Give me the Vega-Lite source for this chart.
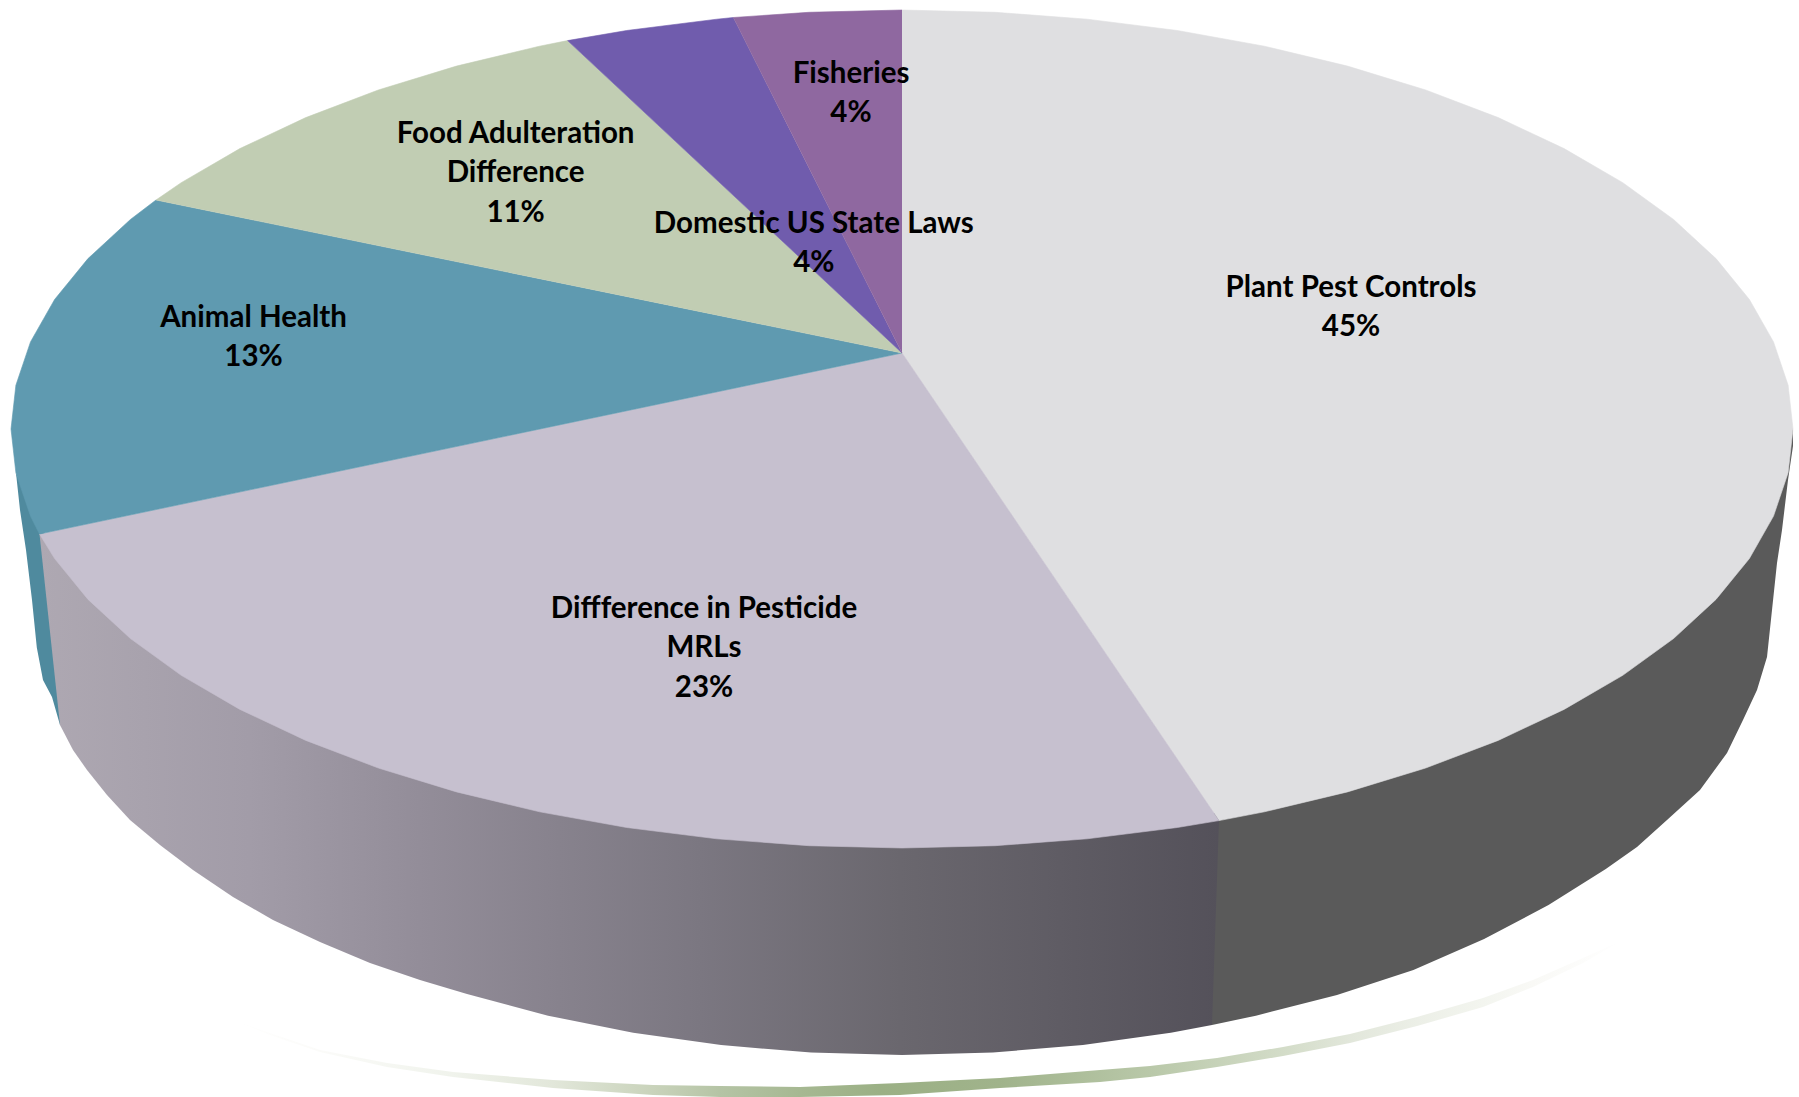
{"$schema":"https://vega.github.io/schema/vega-lite/v6.json","width":1799,"height":1097,"padding":0,"autosize":{"type":"none"},"background":"white","view":{"stroke":null},
"datasets":{
"shares":[
{"part":"Plant Pest Controls","share":45,"lines":["Plant Pest Controls","45%"],"x":1351,"y":288},
{"part":"Diffference in Pesticide MRLs","share":23,"lines":["Diffference in Pesticide","MRLs","23%"],"x":704,"y":609},
{"part":"Animal Health","share":13,"lines":["Animal Health","13%"],"x":253.5,"y":318},
{"part":"Food Adulteration Difference","share":11,"lines":["Food Adulteration","Difference","11%"],"x":515.6,"y":134},
{"part":"Domestic US State Laws","share":4,"lines":["Domestic US State Laws","4%"],"x":813.8,"y":224},
{"part":"Fisheries","share":4,"lines":["Fisheries","4%"],"x":851,"y":74}],
"top":[
{"part":"Plant Pest Controls","seq":0,"x":902,"y":353},{"part":"Plant Pest Controls","seq":1,"x":902,"y":10},{"part":"Plant Pest Controls","seq":2,"x":995.1,"y":12.3},{"part":"Plant Pest Controls","seq":3,"x":1087.2,"y":19.2},{"part":"Plant Pest Controls","seq":4,"x":1177.3,"y":30.5},{"part":"Plant Pest Controls","seq":5,"x":1264.4,"y":46.2},{"part":"Plant Pest Controls","seq":6,"x":1347.5,"y":66.1},{"part":"Plant Pest Controls","seq":7,"x":1425.7,"y":90},{"part":"Plant Pest Controls","seq":8,"x":1498.2,"y":117.6},{"part":"Plant Pest Controls","seq":9,"x":1564.1,"y":148.6},{"part":"Plant Pest Controls","seq":10,"x":1622.8,"y":182.7},{"part":"Plant Pest Controls","seq":11,"x":1673.6,"y":219.5},{"part":"Plant Pest Controls","seq":12,"x":1716,"y":258.6},{"part":"Plant Pest Controls","seq":13,"x":1749.4,"y":299.5},{"part":"Plant Pest Controls","seq":14,"x":1773.5,"y":341.9},{"part":"Plant Pest Controls","seq":15,"x":1788.1,"y":385.2},{"part":"Plant Pest Controls","seq":16,"x":1793,"y":429},{"part":"Plant Pest Controls","seq":17,"x":1788.1,"y":472.8},{"part":"Plant Pest Controls","seq":18,"x":1773.5,"y":516.1},{"part":"Plant Pest Controls","seq":19,"x":1749.4,"y":558.5},{"part":"Plant Pest Controls","seq":20,"x":1716,"y":599.4},{"part":"Plant Pest Controls","seq":21,"x":1673.6,"y":638.5},{"part":"Plant Pest Controls","seq":22,"x":1622.8,"y":675.3},{"part":"Plant Pest Controls","seq":23,"x":1564.1,"y":709.4},{"part":"Plant Pest Controls","seq":24,"x":1498.2,"y":740.4},{"part":"Plant Pest Controls","seq":25,"x":1425.7,"y":768},{"part":"Plant Pest Controls","seq":26,"x":1347.5,"y":791.9},{"part":"Plant Pest Controls","seq":27,"x":1264.4,"y":811.8},{"part":"Plant Pest Controls","seq":28,"x":1219,"y":820.6},
{"part":"Diffference in Pesticide MRLs","seq":0,"x":902,"y":353},{"part":"Diffference in Pesticide MRLs","seq":1,"x":1219,"y":820.6},{"part":"Diffference in Pesticide MRLs","seq":2,"x":1177.3,"y":827.5},{"part":"Diffference in Pesticide MRLs","seq":3,"x":1087.2,"y":838.8},{"part":"Diffference in Pesticide MRLs","seq":4,"x":995.1,"y":845.7},{"part":"Diffference in Pesticide MRLs","seq":5,"x":902,"y":848},{"part":"Diffference in Pesticide MRLs","seq":6,"x":808.9,"y":845.7},{"part":"Diffference in Pesticide MRLs","seq":7,"x":716.8,"y":838.8},{"part":"Diffference in Pesticide MRLs","seq":8,"x":626.7,"y":827.5},{"part":"Diffference in Pesticide MRLs","seq":9,"x":539.6,"y":811.8},{"part":"Diffference in Pesticide MRLs","seq":10,"x":456.5,"y":791.9},{"part":"Diffference in Pesticide MRLs","seq":11,"x":378.3,"y":768},{"part":"Diffference in Pesticide MRLs","seq":12,"x":305.8,"y":740.4},{"part":"Diffference in Pesticide MRLs","seq":13,"x":239.9,"y":709.4},{"part":"Diffference in Pesticide MRLs","seq":14,"x":181.2,"y":675.3},{"part":"Diffference in Pesticide MRLs","seq":15,"x":130.4,"y":638.5},{"part":"Diffference in Pesticide MRLs","seq":16,"x":88,"y":599.4},{"part":"Diffference in Pesticide MRLs","seq":17,"x":54.6,"y":558.5},{"part":"Diffference in Pesticide MRLs","seq":18,"x":39.5,"y":534},
{"part":"Animal Health","seq":0,"x":902,"y":353},{"part":"Animal Health","seq":1,"x":39.5,"y":534},{"part":"Animal Health","seq":2,"x":30.5,"y":516.1},{"part":"Animal Health","seq":3,"x":15.9,"y":472.8},{"part":"Animal Health","seq":4,"x":11,"y":429},{"part":"Animal Health","seq":5,"x":15.9,"y":385.2},{"part":"Animal Health","seq":6,"x":30.5,"y":341.9},{"part":"Animal Health","seq":7,"x":54.6,"y":299.5},{"part":"Animal Health","seq":8,"x":88,"y":258.6},{"part":"Animal Health","seq":9,"x":130.4,"y":219.5},{"part":"Animal Health","seq":10,"x":156,"y":200},
{"part":"Food Adulteration Difference","seq":0,"x":902,"y":353},{"part":"Food Adulteration Difference","seq":1,"x":156,"y":200},{"part":"Food Adulteration Difference","seq":2,"x":181.2,"y":182.7},{"part":"Food Adulteration Difference","seq":3,"x":239.9,"y":148.6},{"part":"Food Adulteration Difference","seq":4,"x":305.8,"y":117.6},{"part":"Food Adulteration Difference","seq":5,"x":378.3,"y":90},{"part":"Food Adulteration Difference","seq":6,"x":456.5,"y":66.1},{"part":"Food Adulteration Difference","seq":7,"x":539.6,"y":46.2},{"part":"Food Adulteration Difference","seq":8,"x":567.6,"y":40.6},
{"part":"Domestic US State Laws","seq":0,"x":902,"y":353},{"part":"Domestic US State Laws","seq":1,"x":567.6,"y":40.6},{"part":"Domestic US State Laws","seq":2,"x":626.7,"y":30.5},{"part":"Domestic US State Laws","seq":3,"x":716.8,"y":19.2},{"part":"Domestic US State Laws","seq":4,"x":733.4,"y":17.5},
{"part":"Fisheries","seq":0,"x":902,"y":353},{"part":"Fisheries","seq":1,"x":733.4,"y":17.5},{"part":"Fisheries","seq":2,"x":808.9,"y":12.3},{"part":"Fisheries","seq":3,"x":902,"y":10}],
"wallDark":[
{"seq":0,"x":1200,"y":822},{"seq":1,"x":1793,"y":429},{"seq":2,"x":1793,"y":446},{"seq":3,"x":1788,"y":480},{"seq":4,"x":1782,"y":530},{"seq":5,"x":1777,"y":563},{"seq":6,"x":1772,"y":610},{"seq":7,"x":1767,"y":657},{"seq":8,"x":1757,"y":690},{"seq":9,"x":1743,"y":720},{"seq":10,"x":1727,"y":753},{"seq":11,"x":1700,"y":790},{"seq":12,"x":1667,"y":820},{"seq":13,"x":1637,"y":847},{"seq":14,"x":1605.8,"y":869},{"seq":15,"x":1548.5,"y":905},{"seq":16,"x":1484.1,"y":939},{"seq":17,"x":1413.4,"y":970},{"seq":18,"x":1337,"y":995},{"seq":19,"x":1255.9,"y":1015.7},{"seq":20,"x":1212,"y":1025},{"seq":21,"x":1200,"y":1020}],
"wallLilac":[
{"seq":0,"x":39.5,"y":534},{"seq":1,"x":1219,"y":820.6},{"seq":2,"x":1212,"y":1025},{"seq":3,"x":1170.8,"y":1032.7},{"seq":4,"x":1082.9,"y":1045.1},{"seq":5,"x":992.9,"y":1052.5},{"seq":6,"x":902,"y":1055},{"seq":7,"x":811.1,"y":1052.5},{"seq":8,"x":721.1,"y":1045.1},{"seq":9,"x":633.2,"y":1032.7},{"seq":10,"x":548.1,"y":1015.7},{"seq":11,"x":467,"y":994},{"seq":12,"x":420,"y":980},{"seq":13,"x":370,"y":963},{"seq":14,"x":320,"y":942},{"seq":15,"x":273,"y":920},{"seq":16,"x":233,"y":897},{"seq":17,"x":193,"y":870},{"seq":18,"x":160,"y":845},{"seq":19,"x":130,"y":820},{"seq":20,"x":107,"y":795},{"seq":21,"x":87,"y":770},{"seq":22,"x":73,"y":750},{"seq":23,"x":60,"y":725}],
"wallTeal":[
{"seq":0,"x":15.9,"y":472.8},{"seq":1,"x":45,"y":534},{"seq":2,"x":65,"y":720},{"seq":3,"x":60,"y":725},{"seq":4,"x":52,"y":697},{"seq":5,"x":43,"y":680},{"seq":6,"x":36.8,"y":647.6},{"seq":7,"x":32,"y":600},{"seq":8,"x":26,"y":550},{"seq":9,"x":20,"y":510},{"seq":10,"x":16,"y":473}],
"swoosh":[
{"seq":0,"x":233,"y":1020},{"seq":1,"x":270,"y":1033},{"seq":2,"x":320,"y":1050},{"seq":3,"x":387,"y":1063},{"seq":4,"x":453,"y":1072},{"seq":5,"x":553,"y":1080},{"seq":6,"x":653,"y":1085},{"seq":7,"x":720,"y":1086},{"seq":8,"x":800,"y":1087},{"seq":9,"x":900,"y":1083},{"seq":10,"x":1000,"y":1078},{"seq":11,"x":1100,"y":1070},{"seq":12,"x":1150,"y":1066},{"seq":13,"x":1217,"y":1058},{"seq":14,"x":1283,"y":1047},{"seq":15,"x":1350,"y":1034},{"seq":16,"x":1417,"y":1017},{"seq":17,"x":1483,"y":998},{"seq":18,"x":1533,"y":980},{"seq":19,"x":1583,"y":958},{"seq":20,"x":1623,"y":940},{"seq":21,"x":1583,"y":963},{"seq":22,"x":1533,"y":987},{"seq":23,"x":1483,"y":1007},{"seq":24,"x":1417,"y":1026},{"seq":25,"x":1350,"y":1043},{"seq":26,"x":1283,"y":1056},{"seq":27,"x":1217,"y":1067},{"seq":28,"x":1150,"y":1077},{"seq":29,"x":1100,"y":1082},{"seq":30,"x":1000,"y":1088},{"seq":31,"x":900,"y":1095},{"seq":32,"x":800,"y":1097},{"seq":33,"x":720,"y":1097},{"seq":34,"x":653,"y":1095},{"seq":35,"x":553,"y":1088},{"seq":36,"x":453,"y":1077},{"seq":37,"x":387,"y":1067},{"seq":38,"x":320,"y":1052},{"seq":39,"x":270,"y":1035}]
},
"encoding":{
"x":{"field":"x","type":"quantitative","scale":{"domain":[0,1799],"nice":false,"zero":false},"axis":null},
"y":{"field":"y","type":"quantitative","scale":{"domain":[1097,0],"nice":false,"zero":false},"axis":null},
"order":{"field":"seq","type":"ordinal"}},
"layer":[
{"data":{"name":"swoosh"},"mark":{"type":"line","strokeWidth":0,"fill":{"gradient":"linear","x1":0,"y1":0,"x2":1,"y2":0,"stops":[{"offset":0,"color":"#ffffff"},{"offset":0.063,"color":"#fbfbf9"},{"offset":0.158,"color":"#f0f3ec"},{"offset":0.23,"color":"#e2e7da"},{"offset":0.302,"color":"#c9d3bb"},{"offset":0.35,"color":"#b5c4a5"},{"offset":0.408,"color":"#a6b892"},{"offset":0.465,"color":"#9bb085"},{"offset":0.552,"color":"#a0b38b"},{"offset":0.66,"color":"#b9c8a9"},{"offset":0.755,"color":"#d3dcc8"},{"offset":0.804,"color":"#e2e7db"},{"offset":0.852,"color":"#ecefe7"},{"offset":0.899,"color":"#f3f5ef"},{"offset":0.935,"color":"#f9f9f6"},{"offset":1,"color":"#ffffff"}]}}},
{"data":{"name":"wallTeal"},"mark":{"type":"line","strokeWidth":0,"fill":"#4f8a9e"}},
{"data":{"name":"wallDark"},"mark":{"type":"line","strokeWidth":0,"fill":"#5a5a5a"}},
{"data":{"name":"wallLilac"},"mark":{"type":"line","strokeWidth":0,"fill":{"gradient":"linear","x1":0,"y1":0,"x2":1,"y2":0,"stops":[{"offset":0,"color":"#aea8b2"},{"offset":0.178,"color":"#a29ca8"},{"offset":0.322,"color":"#938d99"},{"offset":0.56,"color":"#7b7781"},{"offset":0.73,"color":"#6a676e"},{"offset":1,"color":"#54515a"}]}}},
{"data":{"name":"top"},"mark":{"type":"line","strokeWidth":0.6},
 "encoding":{"detail":{"field":"part"},
  "fill":{"field":"part","type":"nominal","legend":null,"scale":{"domain":["Plant Pest Controls","Diffference in Pesticide MRLs","Animal Health","Food Adulteration Difference","Domestic US State Laws","Fisheries"],"range":["#dfdfe1","#c6c0cf","#5f9ab0","#c1cdb3","#705cad","#8f68a0"]}},
  "stroke":{"field":"part","type":"nominal","legend":null,"scale":{"domain":["Plant Pest Controls","Diffference in Pesticide MRLs","Animal Health","Food Adulteration Difference","Domestic US State Laws","Fisheries"],"range":["#dfdfe1","#c6c0cf","#5f9ab0","#c1cdb3","#705cad","#8f68a0"]}}}},
{"data":{"name":"shares"},"mark":{"type":"text","font":"Lato","fontWeight":"bold","fontSize":29.5,"lineHeight":39.3,"align":"center","baseline":"middle","color":"#000000"},
 "encoding":{"order":null,"text":{"field":"lines","type":"nominal"}}}
]}
